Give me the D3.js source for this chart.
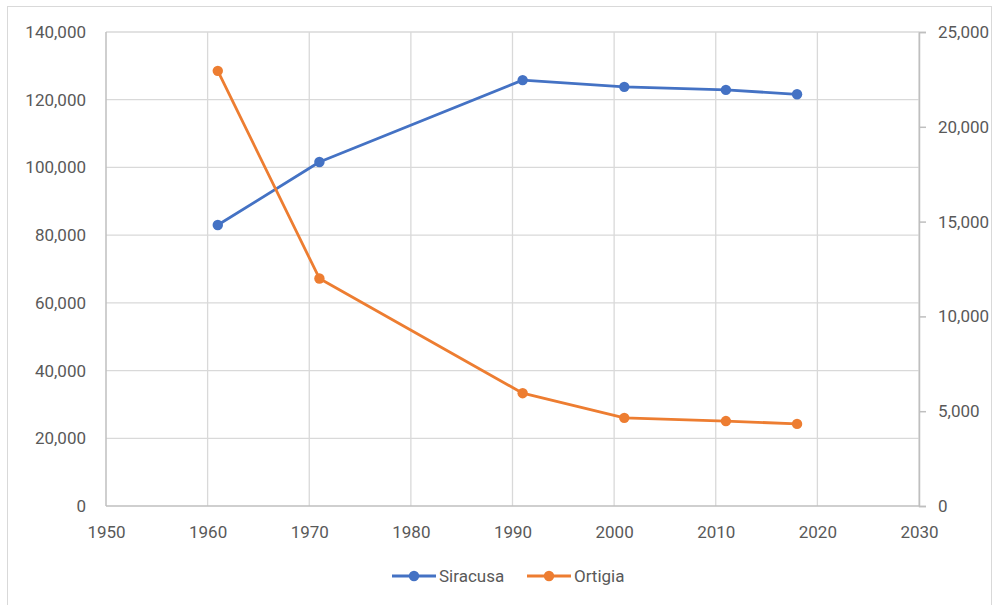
<!DOCTYPE html>
<html>
<head>
<meta charset="utf-8">
<script src="https://cdn.jsdelivr.net/npm/d3@7"></script>
<style>
  body { margin: 0; background: #fff; }
  svg text { font-family: Roboto, "Liberation Sans", sans-serif; fill: #595959; }
</style>
</head>
<body>
<div id="chart"></div>
<script>
// data
const years = [1961, 1971, 1991, 2001, 2011, 2018];
const siracusa = [83000, 101600, 125800, 123800, 122900, 121600];
const ortigia = [22950, 12000, 5950, 4650, 4480, 4330];
const xTicks = [1950, 1960, 1970, 1980, 1990, 2000, 2010, 2020, 2030];
const leftTicks = [0, 20000, 40000, 60000, 80000, 100000, 120000, 140000];
const rightTicks = [0, 5000, 10000, 15000, 20000, 25000];

const width = 996, height = 605;
const margin = { top: 32, right: 77, bottom: 99, left: 106 };

const svg = d3.select('#chart').append('svg')
  .attr('width', width)
  .attr('height', height);

// chart frame
svg.append('rect')
  .attr('x', 7.5).attr('y', 6.5)
  .attr('width', width - 12).attr('height', height - 4)
  .attr('fill', 'none')
  .attr('stroke', '#d9d9d9');

const x = d3.scaleLinear().domain([1950, 2030]).range([margin.left, width - margin.right]);
const yL = d3.scaleLinear().domain([0, 140000]).range([height - margin.bottom, margin.top]);
const yR = d3.scaleLinear().domain([0, 25000]).range([height - margin.bottom, margin.top]);
const fmt = d3.format(',');

// gridlines
const grid = svg.append('g').attr('stroke', '#d9d9d9').attr('stroke-width', 1.3);
grid.selectAll('.h').data(leftTicks.slice(1)).join('line')
  .attr('x1', x(1950)).attr('x2', x(2030))
  .attr('y1', d => yL(d)).attr('y2', d => yL(d));
grid.selectAll('.v').data(xTicks.slice(1)).join('line')
  .attr('x1', d => x(d)).attr('x2', d => x(d))
  .attr('y1', yL(0)).attr('y2', yL(140000));

// axis lines
svg.append('line')
  .attr('x1', x(1950)).attr('x2', x(2030))
  .attr('y1', yL(0)).attr('y2', yL(0))
  .attr('stroke', '#bfbfbf').attr('stroke-width', 1.5);
svg.append('line')
  .attr('x1', x(1950)).attr('x2', x(1950))
  .attr('y1', yL(0)).attr('y2', yL(140000))
  .attr('stroke', '#bfbfbf').attr('stroke-width', 1.5);

// left axis labels
const leftAxis = d3.axisLeft(yL).tickValues(leftTicks).tickFormat(fmt).tickSize(0).tickPadding(20);
const gl = svg.append('g').attr('transform', `translate(${x(1950)},0)`).call(leftAxis);
gl.select('.domain').remove();

// right axis with outward ticks
const rightAxis = d3.axisRight(yR).tickValues(rightTicks).tickFormat(fmt).tickSize(7).tickPadding(12);
const gr = svg.append('g').attr('transform', `translate(${x(2030)},0)`).call(rightAxis);
gr.select('.domain').attr('stroke', '#bfbfbf').attr('stroke-width', 1.5);
gr.selectAll('.tick line').attr('stroke', '#bfbfbf').attr('stroke-width', 1.5);

// bottom axis labels
const bottomAxis = d3.axisBottom(x).tickValues(xTicks).tickFormat(d3.format('d')).tickSize(0).tickPadding(20);
const gb = svg.append('g').attr('transform', `translate(0,${yL(0)})`).call(bottomAxis);
gb.select('.domain').remove();

svg.selectAll('.tick text')
  .attr('font-size', 17)
  .attr('font-family', 'Roboto, "Liberation Sans", sans-serif')
  .attr('fill', '#595959');

// series
const series = [
  { name: 'Siracusa', values: siracusa, y: yL, color: '#4472c4' },
  { name: 'Ortigia', values: ortigia, y: yR, color: '#ed7d31' }
];

series.forEach(s => {
  const pts = years.map((yr, i) => [yr, s.values[i]]);
  const line = d3.line().x(d => x(d[0])).y(d => s.y(d[1]));
  svg.append('path')
    .datum(pts)
    .attr('d', line)
    .attr('fill', 'none')
    .attr('stroke', s.color)
    .attr('stroke-width', 2.8)
    .attr('stroke-linejoin', 'round');
  svg.append('g').selectAll('circle').data(pts).join('circle')
    .attr('cx', d => x(d[0]))
    .attr('cy', d => s.y(d[1]))
    .attr('r', 5.2)
    .attr('fill', s.color);
});

// legend
const legendY = 576;
const legendX = [392, 527];
series.forEach((s, i) => {
  const g = svg.append('g').attr('transform', `translate(${legendX[i]},${legendY})`);
  g.append('line').attr('x1', 0).attr('x2', 44).attr('stroke', s.color).attr('stroke-width', 2.8);
  g.append('circle').attr('cx', 22).attr('r', 5.2).attr('fill', s.color);
  g.append('text').attr('x', 47).attr('dy', '0.35em').attr('font-size', 17).text(s.name);
});
</script>
</body>
</html>
